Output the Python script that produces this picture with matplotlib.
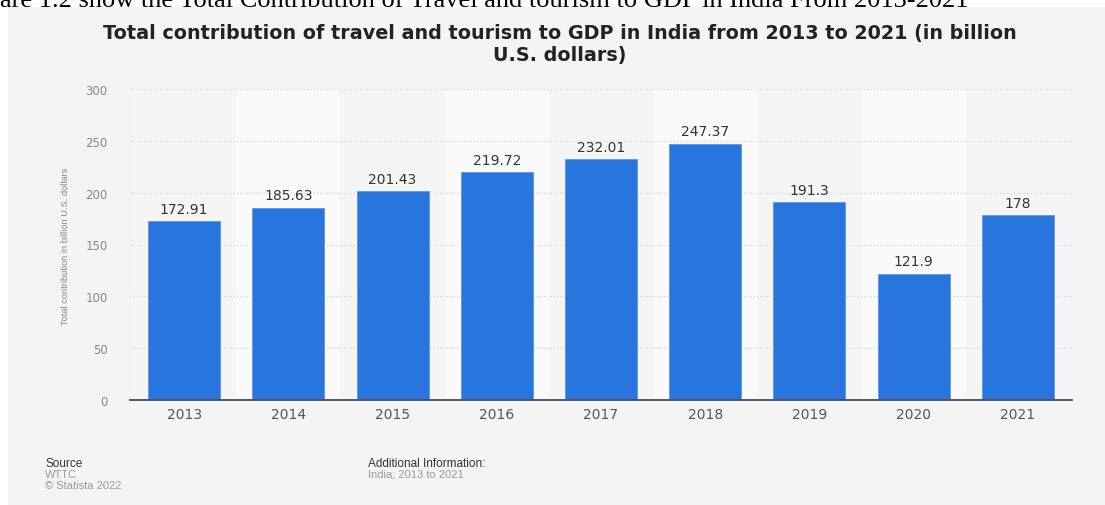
import matplotlib
matplotlib.use('Agg')
import matplotlib.pyplot as plt

years = ['2013', '2014', '2015', '2016', '2017', '2018', '2019', '2020', '2021']
values = [172.91, 185.63, 201.43, 219.72, 232.01, 247.37, 191.3, 121.9, 178]
labels = ['172.91', '185.63', '201.43', '219.72', '232.01', '247.37', '191.3', '121.9', '178']
yticks = [0, 50, 100, 150, 200, 250, 300]

plt.rcParams['font.family'] = ['DejaVu Sans']

fig = plt.figure(figsize=(11.05, 5.06), dpi=100)
fig.patch.set_facecolor('white')

# gray panel behind the chart
panel = plt.Rectangle((8 / 1105, 0), 1 - 8 / 1105, 1 - 8 / 506, transform=fig.transFigure,
                      facecolor='#f4f4f4', edgecolor='none', zorder=-5)
fig.patches.append(panel)

# cut-off caption line from the document (top half is outside the screenshot)
fig.text(0.0, 1 - 7 / 506, 'are 1.2 show the Total Contribution of Travel and tourism to GDP in India From 2013-2021',
         family='Liberation Serif', fontsize=19, color='black', va='baseline', ha='left')

ax = fig.add_axes([130 / 1105, 105 / 506, (1072 - 130) / 1105, (401 - 90) / 506], zorder=2)
ax.set_facecolor('#f5f5f5')

x = list(range(len(years)))
for i in x:
    if i % 2 == 1:
        ax.axvspan(i - 0.5, i + 0.5, color='#fafafa', zorder=0, lw=0)

ax.bar(x, values, width=0.69, color='#2876dd', edgecolor='#5b96e6', linewidth=0.6, zorder=3)
for i, v in enumerate(values):
    ax.text(i, v + 5, labels[i], ha='center', va='bottom', fontsize=10, color='#333333', zorder=4)

ax.set_xlim(-0.52, 8.52)
ax.set_ylim(0, 300)
ax.set_yticks(yticks)
ax.set_xticks(x)
ax.set_xticklabels(years)
ax.yaxis.grid(True, linestyle=(0, (1, 2)), color='#cccccc', linewidth=0.8, zorder=1)
ax.set_axisbelow(True)
for s in ['top', 'right', 'left']:
    ax.spines[s].set_visible(False)
ax.spines['bottom'].set_color('#555555')
ax.spines['bottom'].set_linewidth(1.4)
ax.spines['bottom'].set_zorder(5)
ax.tick_params(axis='x', length=0, pad=5, labelsize=10, labelcolor='#555555')
ax.tick_params(axis='y', length=0, pad=16, labelsize=8.5, labelcolor='#888888')

fig.text(66 / 1105, 1 - 246 / 506, 'Total contribution in billion U.S. dollars', rotation=90,
         ha='center', va='center', fontsize=6.7, color='#888888', family='Liberation Sans')

fig.text(560 / 1105, 1 - 33 / 506, 'Total contribution of travel and tourism to GDP in India from 2013 to 2021 (in billion',
         ha='center', va='center', fontsize=13.8, fontweight='bold', color='#222222')
fig.text(560 / 1105, 1 - 55 / 506, 'U.S. dollars)',
         ha='center', va='center', fontsize=13.8, fontweight='bold', color='#222222')

fig.text(45 / 1105, 1 - 464 / 506, 'Source', ha='left', va='center', fontsize=8.5, color='#333333',
         family='Liberation Sans')
fig.text(45 / 1105, 1 - 475 / 506, 'WTTC', ha='left', va='center', fontsize=8, color='#999999',
         family='Liberation Sans')
fig.text(45 / 1105, 1 - 486 / 506, '\u00a9 Statista 2022', ha='left', va='center', fontsize=8, color='#999999',
         family='Liberation Sans')
fig.text(368 / 1105, 1 - 464 / 506, 'Additional Information:', ha='left', va='center', fontsize=8.5, color='#333333',
         family='Liberation Sans')
fig.text(368 / 1105, 1 - 475 / 506, 'India; 2013 to 2021', ha='left', va='center', fontsize=8, color='#999999',
         family='Liberation Sans')

fig.savefig('out.png', dpi=100)
